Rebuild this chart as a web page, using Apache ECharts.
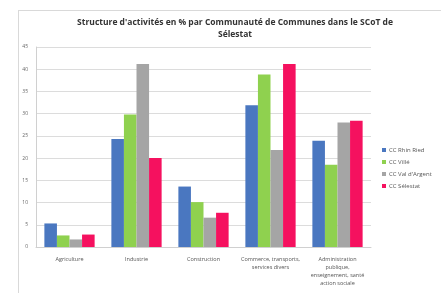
<!DOCTYPE html>
<html>
<head>
<meta charset="utf-8">
<script src="https://cdn.jsdelivr.net/npm/echarts@6/dist/echarts.min.js"></script>
<style>
  html, body { margin: 0; padding: 0; background: #fff; }
  #frame { position: absolute; left: 18px; top: 10px; width: 440px; height: 300px; border: 1px solid #d9d9d9; box-sizing: border-box; }
  #chart { position: absolute; left: 0; top: 0; width: 441px; height: 293px; }
</style>
</head>
<body>
<div id="frame"></div>
<div id="chart"></div>
<script>
const categories = [
  'Agriculture',
  'Industrie',
  'Construction',
  'Commerce, transports,\nservices divers',
  'Administration\npublique,\nenseignement, santé\naction sociale'
]
const rhinRied = [5.3, 24.3, 13.6, 31.9, 23.9]
const ville = [2.6, 29.8, 10.1, 38.8, 18.5]
const valArgent = [1.7, 41.2, 6.6, 21.8, 28.0]
const selestat = [2.8, 20.0, 7.7, 41.2, 28.4]
const seriesNames = ['CC Rhin Ried', 'CC Villé', "CC Val d'Argent", 'CC Sélestat']
const colors = ['#4a77c0', '#8fd14f', '#a5a5a5', '#f5115f']

const myChart = echarts.init(document.getElementById('chart'))

const mkSeries = (name, data, i) => ({
  name,
  type: 'bar',
  data,
  barGap: 0,
  barCategoryGap: '25%',
  itemStyle: { color: colors[i] }
})

myChart.setOption({
  animation: false,
  textStyle: { fontFamily: 'Open Sans' },
  title: {
    text: "Structure d'activités en % par Communauté de Communes dans le SCoT de\nSélestat",
    left: 230,
    top: 12,
    textAlign: 'center',
    textStyle: { fontSize: 8.5, fontWeight: 'bold', color: '#333', lineHeight: 12, fontFamily: 'Open Sans' }
  },
  legend: {
    orient: 'vertical',
    left: 377,
    top: 142,
    itemWidth: 4,
    itemHeight: 4,
    itemGap: 6,
    icon: 'rect',
    textStyle: { fontSize: 6, color: '#555', padding: [0, 0, 0, -2] },
    data: seriesNames
  },
  grid: { left: 36, right: 70, top: 47, bottom: 46 },
  xAxis: {
    type: 'category',
    data: categories,
    axisLine: { lineStyle: { color: '#d0d0d0' } },
    axisTick: { show: false },
    axisLabel: { fontSize: 5.5, color: '#555', lineHeight: 8, interval: 0 }
  },
  yAxis: {
    type: 'value',
    min: 0,
    max: 45,
    interval: 5,
    axisLine: { show: true, lineStyle: { color: '#d0d0d0' } },
    axisLabel: { fontSize: 5, color: '#666', margin: 8 },
    splitLine: { lineStyle: { color: '#dcdcdc' } }
  },
  series: [
    mkSeries(seriesNames[0], rhinRied, 0),
    mkSeries(seriesNames[1], ville, 1),
    mkSeries(seriesNames[2], valArgent, 2),
    mkSeries(seriesNames[3], selestat, 3)
  ]
})
</script>
</body>
</html>
